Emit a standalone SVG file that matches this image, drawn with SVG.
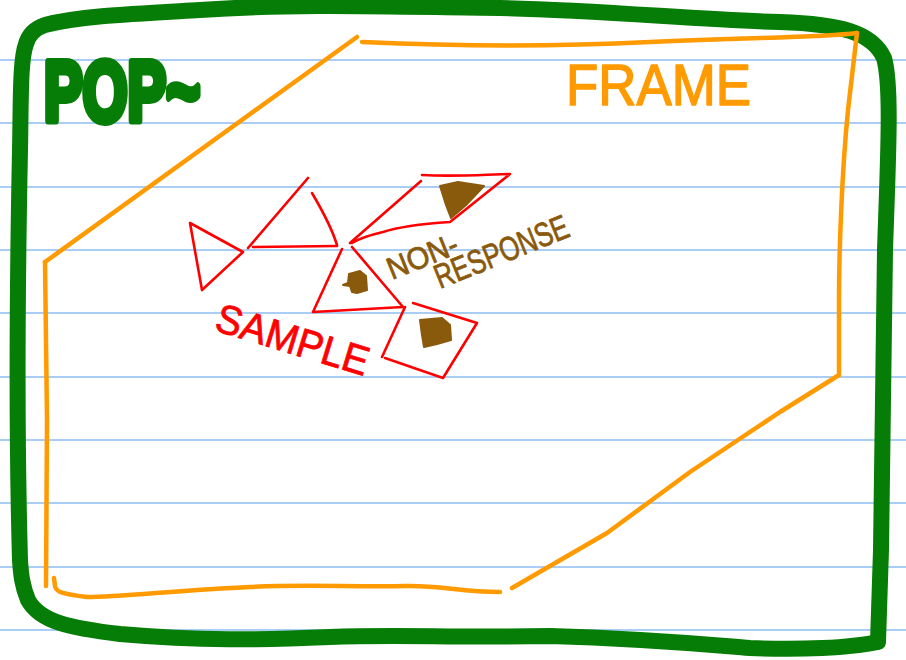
<svg xmlns="http://www.w3.org/2000/svg" width="906" height="660" viewBox="0 0 906 660">
<style>
.rule{stroke:#a9cdf5;stroke-width:2}
.pop{fill:none;stroke:#067d06;stroke-width:16;stroke-linecap:round;stroke-linejoin:round}
.fr{fill:none;stroke:#ff9a00;stroke-width:4.5;stroke-linecap:round;stroke-linejoin:round}
.red{fill:none;stroke:#ff0000;stroke-width:2.6;stroke-linecap:round;stroke-linejoin:round}
.nr{fill:#8a5a0c;stroke:#8a5a0c;stroke-width:2;stroke-linejoin:round}
.hand{font-family:"Liberation Sans",Arial,sans-serif;stroke-linejoin:round}
</style>
<rect width="906" height="660" fill="#ffffff"/>
<g id="paper-rules">
<line class="rule" x1="0" y1="60" x2="906" y2="60"/>
<line class="rule" x1="0" y1="123" x2="906" y2="123"/>
<line class="rule" x1="0" y1="187" x2="906" y2="187"/>
<line class="rule" x1="0" y1="250" x2="906" y2="250"/>
<line class="rule" x1="0" y1="313" x2="906" y2="313"/>
<line class="rule" x1="0" y1="377" x2="906" y2="377"/>
<line class="rule" x1="0" y1="440" x2="906" y2="440"/>
<line class="rule" x1="0" y1="503" x2="906" y2="503"/>
<line class="rule" x1="0" y1="567" x2="906" y2="567"/>
<line class="rule" x1="0" y1="630" x2="906" y2="630"/>
</g>
<g id="population">
<path class="pop" d="M 20,560 C 16,420 18,250 20,150 C 21,100 20,60 26,44 Q 30,30 45,25 C 80,16 130,14 200,10 C 300,3 400,7 500,8 C 600,10 700,20 780,22 C 840,24 872,32 884,58 C 892,85 888,160 885,250 L 881,550 L 878,642 C 850,648 800,650 750,648 C 700,644 650,639 550,636 C 450,638 400,634 330,637 C 260,640 200,641 120,634 C 70,628 40,622 28,600 C 22,585 21,575 20,560 Z"/>
<text class="hand" x="44" y="121" font-size="86" font-weight="bold" fill="#067d06" stroke="#067d06" stroke-width="8" textLength="156" lengthAdjust="spacingAndGlyphs">POP~</text>
</g>
<g id="frame">
<path class="fr" d="M 45,262 L 357,37"/>
<path class="fr" d="M 362,42 C 450,46 550,47 650,42 C 750,37 820,38 857,33"/>
<path class="fr" d="M 857,33 L 848,110 C 842,170 839,250 839,300 L 839,373"/>
<path class="fr" d="M 839,375 L 780,412 L 690,472 L 607,533 L 512,588"/>
<path class="fr" d="M 500,592 C 460,592 440,585 405,586 C 350,587 300,584 250,587 C 180,590 120,597 87,597 C 62,594 56,592 55,586 L 54,578"/>
<path class="fr" d="M 46,586 L 47,420 C 46,350 45,300 45,262"/>
<text class="hand" x="566" y="105" font-size="58" fill="#ff9a00" stroke="#ff9a00" stroke-width="1.5" textLength="185" lengthAdjust="spacingAndGlyphs">FRAME</text>
</g>
<g id="sample">
<path class="red" d="M 190,223 L 243,252 L 202,290 Z"/>
<path class="red" d="M 308,178 L 248,248"/>
<path class="red" d="M 253,247 L 337,246"/>
<path class="red" d="M 312,193 C 325,215 333,232 337,245"/>
<path class="red" d="M 342,249 L 313,312 L 403,307 L 352,247"/>
<path class="red" d="M 350,243 L 421,181"/>
<path class="red" d="M 422,175 C 460,177 490,174 510,174 L 450,222 C 420,224 395,228 383,232 C 370,235 360,238 352,243"/>
<path class="red" d="M 413,303 L 477,323 L 443,378 L 385,358"/>
<path class="red" d="M 405,307 L 382,357"/>
<text class="hand" x="213" y="330" font-size="41" fill="#ff0000" stroke="#ff0000" stroke-width="0.8" transform="rotate(17 213 330)" textLength="158" lengthAdjust="spacingAndGlyphs">SAMPLE</text>
</g>
<g id="nonresponse">
<path class="nr" d="M 440,186 L 458,182 L 484,186 L 466,205 L 451,218 L 446,205 Z"/>
<path class="nr" d="M 349,274 L 360,271 L 366,276 L 367,290 L 357,293 L 352,292 L 350,286 L 343,285 L 348,283 Z"/>
<path class="nr" d="M 420,320 L 442,318 L 450,325 L 451,340 L 437,344 L 424,347 L 422,335 Z"/>
<text class="hand" x="392" y="280" font-size="31" fill="#8a5a0c" stroke="#8a5a0c" stroke-width="0.8" transform="rotate(-22 392 280)" textLength="74" lengthAdjust="spacingAndGlyphs">NON-</text>
<text class="hand" x="440" y="289" font-size="34" fill="#8a5a0c" stroke="#8a5a0c" stroke-width="0.8" transform="rotate(-22 440 289)" textLength="142" lengthAdjust="spacingAndGlyphs">RESPONSE</text>
</g>
</svg>
